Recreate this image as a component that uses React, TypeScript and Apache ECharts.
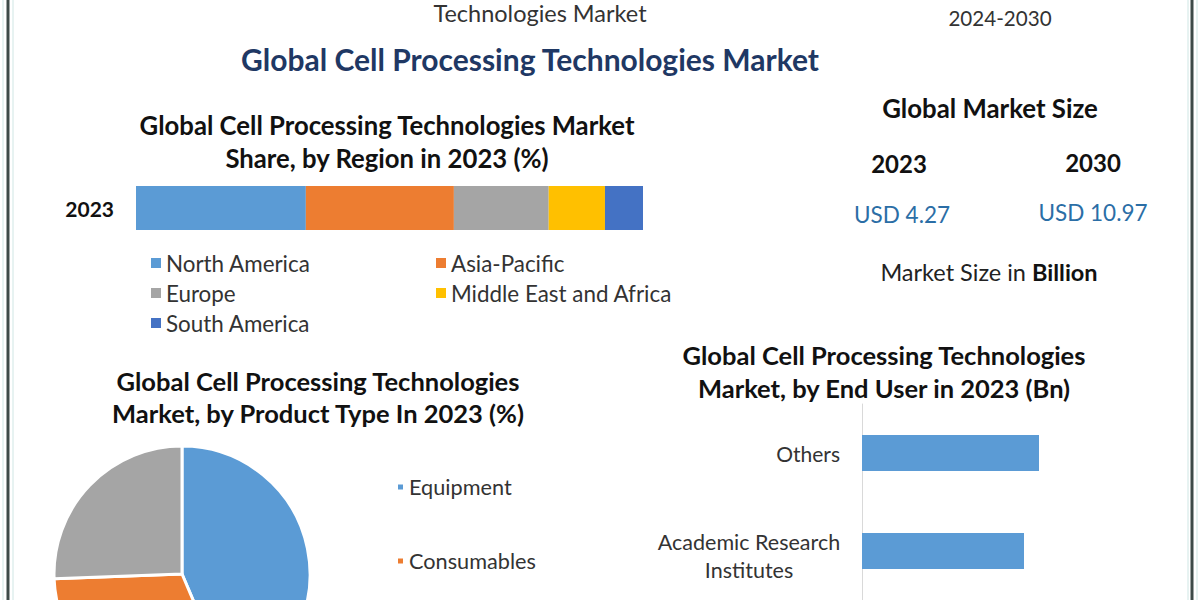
import React, { useEffect, useRef } from "react";
import * as echarts from "echarts";

const regionYear = ["2023"];
const regionNames = ["North America", "Asia-Pacific", "Europe", "Middle East and Africa", "South America"];
const regionShares = [33.5, 29.2, 18.7, 11.1, 7.5];
const regionColors = ["#5B9BD5", "#ED7D31", "#A5A5A5", "#FFC000", "#4472C4"];

const productNames = ["Equipment", "Consumables", "Other Products"];
const productShares = [43.6, 30.8, 25.6];
const productColors = ["#5B9BD5", "#ED7D31", "#A5A5A5"];

const endUserCategories = ["Others", "Academic Research\nInstitutes"];
const endUserValues = [0.885, 0.81];

const marketYears = ["2023", "2030"];
const marketValues = ["USD 4.27", "USD 10.97"];

const FONT = "Lato";

export default function App() {
  const ref = useRef<HTMLDivElement>(null);
  useEffect(() => {
    if (!ref.current) return;
    const chart = echarts.init(ref.current, null, { renderer: "svg" });
    const text = (t: string, x: number, y: number, size: number, weight: any, color = "#1a1a1a", align = "center") => ({
      type: "text",
      x,
      y,
      style: { text: t, fontSize: size, fontWeight: weight, fill: color, fontFamily: FONT, align, verticalAlign: "middle" },
    });
    const option: any = {
      animation: false,
      backgroundColor: "#ffffff",
      grid: [
        { left: 136, top: 186, width: 507, height: 44, containLabel: false },
        { left: 862, top: 404, width: 320, height: 204, containLabel: false },
      ],
      xAxis: [
        { gridIndex: 0, type: "value", min: 0, max: 100, show: false },
        { gridIndex: 1, type: "value", min: 0, max: 1.6, show: false },
      ],
      yAxis: [
        {
          gridIndex: 0,
          type: "category",
          data: regionYear,
          axisLine: { show: false },
          axisTick: { show: false },
          axisLabel: { fontSize: 21, fontWeight: "bold", color: "#111", fontFamily: FONT, margin: 22 },
        },
        {
          gridIndex: 1,
          type: "category",
          inverse: true,
          data: endUserCategories,
          axisLine: { show: true, lineStyle: { color: "#d9d9d9", width: 1 } },
          axisTick: { show: false },
          axisLabel: {
            fontSize: 21,
            color: "#333",
            fontFamily: FONT,
            margin: 22,
            lineHeight: 28,
            formatter: (v: string) =>
              v.includes("\n")
                ? "{e| }\n" + v.split("\n").map((s) => `{c|${s}}`).join("\n")
                : v,
            rich: {
              e: { width: 182, height: 10, lineHeight: 10, fontSize: 1 },
              c: { width: 182, align: "center", fontSize: 21.5, color: "#333", fontFamily: FONT, lineHeight: 28 },
            },
          },
        },
      ],
      legend: [
        {
          orient: "vertical",
          left: 146,
          top: 247,
          itemGap: 8,
          itemWidth: 10,
          itemHeight: 10,
          icon: "rect",
          data: [regionNames[0], regionNames[2], regionNames[4]],
          textStyle: { fontSize: 22.4, color: "#333", fontFamily: FONT },
        },
        {
          orient: "vertical",
          left: 431,
          top: 247,
          itemGap: 8,
          itemWidth: 10,
          itemHeight: 10,
          icon: "rect",
          data: [regionNames[1], regionNames[3]],
          textStyle: { fontSize: 22.4, color: "#333", fontFamily: FONT },
        },
        {
          orient: "vertical",
          left: 391,
          top: 471,
          itemGap: 52,
          itemWidth: 7,
          itemHeight: 7,
          icon: "rect",
          data: [productNames[0], productNames[1]],
          textStyle: { fontSize: 21.7, color: "#333", fontFamily: FONT },
        },
      ],
      series: [
        ...regionNames.map((n, i) => ({
          name: n,
          type: "bar",
          stack: "region",
          xAxisIndex: 0,
          yAxisIndex: 0,
          barWidth: 44,
          data: [regionShares[i]],
          itemStyle: { color: regionColors[i] },
        })),
        {
          name: "End User",
          type: "bar",
          xAxisIndex: 1,
          yAxisIndex: 1,
          barWidth: 36,
          data: endUserValues,
          itemStyle: { color: "#5B9BD5" },
        },
        {
          name: "Product Type",
          type: "pie",
          center: [182, 574],
          radius: 128,
          startAngle: 90,
          label: { show: false },
          labelLine: { show: false },
          itemStyle: { borderColor: "#ffffff", borderWidth: 3 },
          data: productNames.map((n, i) => ({ name: n, value: productShares[i], itemStyle: { color: productColors[i] } })),
        },
      ],
      graphic: [
        // frame lines
        { type: "line", shape: { x1: 3, y1: 0, x2: 3, y2: 600 }, style: { stroke: "#cfe6e4", lineWidth: 1 } },
        { type: "line", shape: { x1: 8, y1: 0, x2: 8, y2: 600 }, style: { stroke: "#3d4a48", lineWidth: 3 } },
        { type: "line", shape: { x1: 13, y1: 0, x2: 13, y2: 600 }, style: { stroke: "#cfe6e4", lineWidth: 1 } },
        { type: "line", shape: { x1: 1188, y1: 0, x2: 1188, y2: 600 }, style: { stroke: "#cfe6e4", lineWidth: 1 } },
        { type: "line", shape: { x1: 1192, y1: 0, x2: 1192, y2: 600 }, style: { stroke: "#3d4a48", lineWidth: 3 } },
        { type: "line", shape: { x1: 1197, y1: 0, x2: 1197, y2: 600 }, style: { stroke: "#cfe6e4", lineWidth: 1 } },
        // header
        text("Technologies Market", 540, 13, 23.5, "normal", "#333"),
        text("2024-2030", 1000, 18, 20.6, "normal", "#333"),
        text("Global Cell Processing Technologies Market", 530, 59, 30, "bold", "#1F3864"),
        // region chart title
        text("Global Cell Processing Technologies Market", 387, 125, 25.7, "bold", "#111"),
        text("Share, by Region in 2023 (%)", 387, 158, 25.7, "bold", "#111"),
        // market size panel
        text("Global Market Size", 990, 108, 25.8, "bold", "#111"),
        text(marketYears[0], 899, 163, 24, "bold", "#111"),
        text(marketYears[1], 1093, 162, 24, "bold", "#111"),
        text(marketValues[0], 902, 214, 22.5, "normal", "#2B6EA6"),
        text(marketValues[1], 1093, 212, 22.5, "normal", "#2B6EA6"),
        {
          type: "text",
          x: 989,
          y: 272,
          style: {
            text: "{n|Market Size in }{b|Billion}",
            align: "center",
            verticalAlign: "middle",
            rich: {
              n: { fontSize: 23.5, fontFamily: FONT, fill: "#222", color: "#222" },
              b: { fontSize: 23.5, fontFamily: FONT, fontWeight: "bold", fill: "#111", color: "#111" },
            },
          },
        },
        // product title
        text("Global Cell Processing Technologies", 318, 381, 25.5, "bold", "#111"),
        text("Market, by Product Type In 2023 (%)", 318, 413, 25.5, "bold", "#111"),
        // end user title
        text("Global Cell Processing Technologies", 884, 355, 25.5, "bold", "#111"),
        text("Market, by End User in 2023 (Bn)", 884, 388, 25.5, "bold", "#111"),
      ],
    };
    chart.setOption(option);
    return () => chart.dispose();
  }, []);
  return <div ref={ref} style={{ position: "fixed", left: 0, top: 0, width: 1200, height: 600 }} />;
}
